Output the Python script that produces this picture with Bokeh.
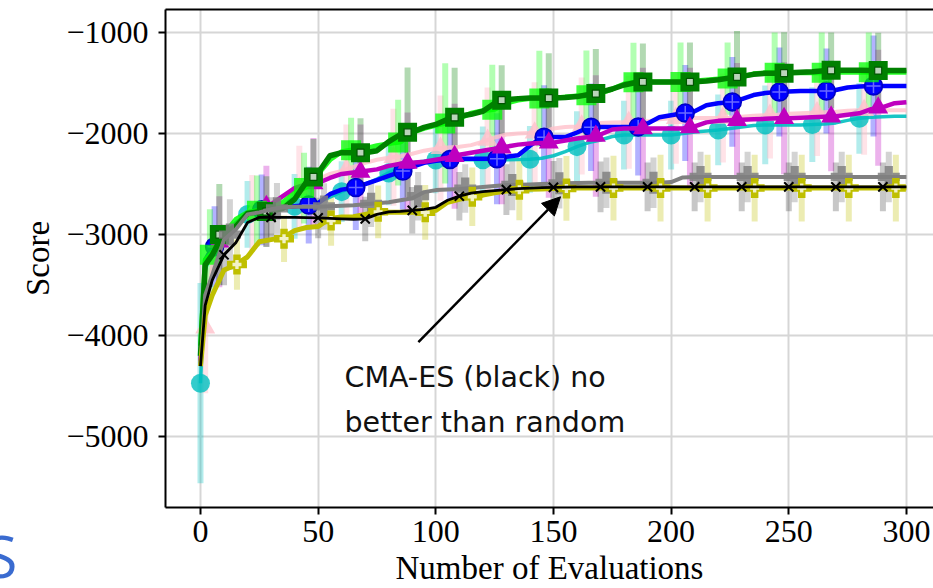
import numpy as np
from bokeh.plotting import figure
from bokeh.layouts import row
from bokeh.models import (Range1d, FixedTicker, CustomJSTickFormatter, Label, Arrow, NormalHead,
                          LinearAxis, Div)
from bokeh.embed import file_html
from bokeh.resources import INLINE

# ---------------- data ----------------
X_TICKS = [0, 50, 100, 150, 200, 250, 300]
Y_TICKS = [-5000, -4000, -3000, -2000, -1000]

LINE_X = [0, 2] + list(range(5, 301, 5))

cyan_line = [-4470, -3350, -3150, -3000, -2880, -2800, -2770, -2750, -2740, -2720, -2700, -2680,
             -2630, -2575, -2530, -2500, -2450, -2390, -2330, -2290, -2275, -2262, -2260, -2260,
             -2260, -2260, -2260, -2260, -2258, -2255, -2245, -2220, -2180, -2130, -2090, -2064,
             -2030, -2015, -2015, -2015, -2015, -2015, -2000, -1985, -1975, -1965, -1950, -1935,
             -1920, -1915, -1915, -1915, -1915, -1912, -1905, -1895, -1870, -1850, -1840, -1835,
             -1830, -1830]
pink_line = [-4000, -3900, -3300, -3050, -2900, -2800, -2770, -2700, -2620, -2560, -2500, -2450,
             -2400, -2370, -2330, -2290, -2260, -2240, -2225, -2200, -2170, -2150, -2138, -2130,
             -2115, -2080, -2040, -2010, -2000, -1995, -1990, -1950, -1935, -1930, -1905, -1895,
             -1890, -1888, -1887, -1880, -1860, -1850, -1847, -1847, -1847, -1847, -1845, -1835,
             -1825, -1820, -1815, -1805, -1800, -1795, -1790, -1785, -1775, -1770, -1770, -1770,
             -1770, -1770]
lime_line = [-4100, -3250, -3180, -3000, -2850, -2780, -2760, -2740, -2680, -2590, -2530, -2400,
             -2260, -2180, -2160, -2150, -2120, -2100, -2085, -1990, -1950, -1920, -1895, -1850,
             -1800, -1775, -1760, -1700, -1670, -1655, -1655, -1650, -1640, -1630, -1620, -1600,
             -1560, -1510, -1490, -1490, -1490, -1490, -1490, -1480, -1470, -1460, -1455, -1440,
             -1410, -1400, -1400, -1400, -1400, -1400, -1400, -1395, -1394, -1394, -1394, -1394,
             -1394, -1394]
blue_line = [-4300, -3250, -3130, -3000, -2900, -2790, -2760, -2740, -2730, -2720, -2710, -2690,
             -2600, -2555, -2540, -2500, -2460, -2420, -2380, -2330, -2290, -2270, -2260, -2250,
             -2250, -2250, -2250, -2230, -2215, -2120, -2040, -2035, -2035, -1990, -1940, -1935,
             -1935, -1935, -1935, -1900, -1840, -1820, -1800, -1780, -1720, -1700, -1690, -1660,
             -1620, -1600, -1590, -1585, -1580, -1580, -1580, -1570, -1545, -1535, -1530, -1530,
             -1530, -1530]
magenta_line = [-4250, -3300, -3200, -3050, -2900, -2800, -2760, -2700, -2620, -2540, -2500, -2490,
                -2440, -2400, -2385, -2370, -2355, -2320, -2300, -2290, -2280, -2260, -2240, -2210,
                -2190, -2170, -2150, -2130, -2110, -2100, -2095, -2090, -2070, -2050, -2035, -2010,
                -1960, -1950, -1950, -1950, -1950, -1950, -1950, -1930, -1890, -1875, -1870, -1865,
                -1860, -1855, -1850, -1848, -1845, -1840, -1835, -1830, -1815, -1800, -1760, -1740,
                -1700, -1690]
dgreen_line = [-4200, -3300, -3200, -2980, -2920, -2790, -2775, -2770, -2740, -2650, -2480, -2390,
               -2220, -2190, -2190, -2190, -2170, -2080, -2010, -1985, -1940, -1910, -1860, -1830,
               -1810, -1780, -1700, -1665, -1655, -1650, -1650, -1650, -1645, -1635, -1615, -1590,
               -1560, -1520, -1495, -1490, -1490, -1490, -1490, -1488, -1480, -1468, -1450, -1435,
               -1415, -1405, -1405, -1400, -1395, -1390, -1380, -1375, -1375, -1375, -1378, -1378,
               -1378, -1378]
gray_line = [-4300, -3600, -3400, -3050, -2950, -2800, -2780, -2750, -2730, -2725, -2725, -2724,
             -2720, -2715, -2710, -2700, -2690, -2680, -2660, -2640, -2580, -2560, -2555, -2550,
             -2540, -2530, -2520, -2510, -2508, -2505, -2500, -2495, -2492, -2490, -2488, -2488,
             -2488, -2488, -2488, -2488, -2488, -2480, -2435, -2430, -2430, -2430, -2430, -2430,
             -2430, -2430, -2430, -2430, -2430, -2430, -2430, -2430, -2430, -2430, -2430, -2430,
             -2430, -2430]
black_line = [-4300, -3700, -3450, -3200, -3080, -2880, -2830, -2830, -2830, -2830, -2833, -2835,
              -2840, -2845, -2848, -2845, -2800, -2775, -2770, -2760, -2750, -2730, -2660, -2620,
              -2590, -2575, -2565, -2555, -2545, -2540, -2535, -2533, -2530, -2528, -2528, -2528,
              -2528, -2528, -2528, -2528, -2528, -2528, -2528, -2528, -2528, -2528, -2528, -2528,
              -2528, -2528, -2528, -2528, -2528, -2528, -2528, -2528, -2528, -2528, -2528, -2528,
              -2528, -2528]
yellow_line = [-4300, -3800, -3600, -3350, -3300, -3220, -3070, -3050, -3030, -2960, -2930, -2920,
               -2840, -2825, -2823, -2800, -2775, -2780, -2780, -2780, -2780, -2760, -2680, -2650,
               -2626, -2610, -2586, -2570, -2557, -2552, -2548, -2545, -2543, -2540, -2540, -2540,
               -2540, -2540, -2540, -2540, -2540, -2540, -2540, -2540, -2540, -2540, -2540, -2540,
               -2540, -2540, -2540, -2540, -2540, -2540, -2540, -2540, -2540, -2540, -2540, -2540,
               -2540, -2540]

# markers (every ~20 evaluations, each series with its own offset) and error half-widths
cyan_mx = [0, 20, 40, 60, 80, 100, 120, 140, 160, 180, 200, 220, 240, 260, 280]
cyan_my = [-4470, -2800, -2720, -2575, -2390, -2262, -2260, -2255, -2130, -2015, -2015, -1965, -1915, -1912, -1850]
cyan_err = [990, 330, 320, 300, 320, 330, 330, 330, 350, 340, 340, 350, 390, 370, 350]

pink_mx = [2, 22, 42, 62, 82, 102, 122, 142, 162, 182, 202, 222, 242, 262, 282]
pink_my = [-3920, -2790, -2540, -2360, -2235, -2145, -2065, -1993, -1925, -1888, -1848, -1847, -1818, -1793, -1770]
pink_err = [650, 380, 420, 450, 480, 520, 520, 500, 480, 460, 450, 440, 430, 430, 440]

lime_mx = [4, 24, 44, 64, 84, 104, 124, 144, 164, 184, 204, 224, 244, 264, 284]
lime_my = [-3200, -2765, -2540, -2165, -2090, -1900, -1765, -1655, -1622, -1492, -1490, -1457, -1400, -1400, -1394]
lime_err = [450, 350, 350, 320, 425, 595, 445, 473, 443, 390, 390, 357, 400, 400, 394]

blue_mx = [6, 26, 46, 66, 86, 106, 126, 146, 166, 186, 206, 226, 246, 266, 286]
blue_my = [-3120, -2755, -2708, -2535, -2372, -2258, -2250, -2036, -1938, -1935, -1798, -1688, -1590, -1580, -1530]
blue_err = [400, 350, 380, 420, 400, 420, 450, 513, 432, 480, 475, 444, 440, 420, 500]

magenta_mx = [8, 28, 48, 68, 88, 108, 128, 148, 168, 188, 208, 228, 248, 268, 288]
magenta_my = [-3070, -2720, -2495, -2380, -2292, -2225, -2140, -2092, -2025, -1950, -1940, -1868, -1849, -1834, -1745]
magenta_err = [450, 400, 450, 470, 500, 520, 560, 543, 600, 600, 590, 565, 555, 540, 573]

dgreen_mx = [8, 28, 48, 68, 88, 108, 128, 148, 168, 188, 208, 228, 248, 268, 288]
dgreen_my = [-3000, -2772, -2430, -2190, -1988, -1840, -1670, -1650, -1605, -1490, -1490, -1440, -1403, -1375, -1378]
dgreen_err = [500, 350, 375, 340, 640, 490, 345, 445, 440, 380, 390, 455, 405, 375, 375]

black_mx = [10, 30, 50, 70, 90, 110, 130, 150, 170, 190, 210, 230, 250, 270, 290]
black_my = [-3200, -2830, -2835, -2845, -2760, -2620, -2555, -2533, -2528, -2528, -2528, -2528, -2528, -2528, -2528]
black_err = [300, 200, 200, 220, 230, 240, 250, 260, 250, 240, 240, 240, 240, 240, 240]

gray_mx = [12.5, 32.5, 52.5, 72.5, 92.5, 112.5, 132.5, 152.5, 172.5, 192.5, 212.5, 232.5, 252.5, 272.5, 292.5]
gray_my = [-3000, -2740, -2722, -2695, -2620, -2545, -2509, -2493, -2488, -2488, -2430, -2430, -2430, -2430, -2430]
gray_err = [350, 250, 230, 230, 240, 240, 250, 250, 250, 250, 250, 250, 250, 250, 250]

yellow_mx = [15.5, 35.5, 55.5, 75.5, 95.5, 115.5, 135.5, 155.5, 175.5, 195.5, 215.5, 235.5, 255.5, 275.5, 295.5]
yellow_my = [-3296, -3040, -2860, -2775, -2780, -2626, -2557, -2543, -2540, -2540, -2540, -2540, -2540, -2540, -2540]
yellow_err = [250, 230, 250, 260, 270, 290, 300, 320, 320, 330, 330, 330, 330, 330, 330]

ANNOT_LINES = ["CMA-ES (black) no", "better than random"]
X_LABEL = "Number of Evaluations"
Y_LABEL = "Score"
EDGE_TEXT = "S"

# ---------------- main figure ----------------
p = figure(width=917, height=588, output_backend="svg", toolbar_location=None,
           x_range=Range1d(-14.87, 311.5), y_range=Range1d(-5699.5, -773.4),
           min_border_left=149, min_border_right=0, min_border_top=9, min_border_bottom=80)
p.background_fill_color = "white"
p.border_fill_color = "white"
p.outline_line_color = None

xax = p.below[0]
yax = p.left[0]
xax.ticker = FixedTicker(ticks=X_TICKS)
yax.ticker = FixedTicker(ticks=Y_TICKS)
yax.formatter = CustomJSTickFormatter(code="return (tick < 0 ? '\\u2212' : '') + Math.abs(tick).toString();")
for ax in (xax, yax):
    ax.axis_line_width = 2
    ax.axis_line_color = "black"
    ax.major_tick_line_width = 2
    ax.major_tick_out = 7
    ax.major_tick_in = 0
    ax.minor_tick_line_color = None
    ax.major_label_text_font = "Liberation Serif"
    ax.major_label_text_font_size = "32px"
    ax.major_label_text_color = "black"
    ax.axis_label_text_font = "Liberation Serif"
    ax.axis_label_text_font_size = "33px"
    ax.axis_label_text_font_style = "normal"
    ax.axis_label_text_color = "black"
xax.major_label_standoff = 6
xax.axis_label = X_LABEL
xax.axis_label_standoff = 5
yax.major_label_standoff = 10
yax.axis_label = Y_LABEL
yax.axis_label_standoff = 7
p.xgrid.ticker = FixedTicker(ticks=X_TICKS)
p.ygrid.ticker = FixedTicker(ticks=Y_TICKS)
p.grid.grid_line_color = "#d6d6d6"
p.grid.grid_line_width = 2

# top spine only (no ticks / labels)
top = LinearAxis(ticker=FixedTicker(ticks=[]), axis_line_width=2, axis_line_color="black",
                 major_tick_line_color=None, minor_tick_line_color=None,
                 major_label_text_font_size="0px", major_label_standoff=0)
p.add_layout(top, "above")

series = [
    dict(name="cyan", line=cyan_line, mx=cyan_mx, my=cyan_my, err=cyan_err, color="#00bfbf", lw=3.5, la=0.9, ea=0.3),
    dict(name="pink", line=pink_line, mx=pink_mx, my=pink_my, err=pink_err, color="#ffc0cb", lw=4, la=0.8, ea=0.45),
    dict(name="blue", line=blue_line, mx=blue_mx, my=blue_my, err=blue_err, color="#0000ff", lw=4.5, la=1.0, ea=0.3),
    dict(name="magenta", line=magenta_line, mx=magenta_mx, my=magenta_my, err=magenta_err, color="#bf00bf", lw=4.5, la=1.0, ea=0.3),
    dict(name="lime", line=lime_line, mx=lime_mx, my=lime_my, err=lime_err, color="#00ff00", lw=5, la=0.85, ea=0.3),
    dict(name="dgreen", line=dgreen_line, mx=dgreen_mx, my=dgreen_my, err=dgreen_err, color="#008000", lw=5.5, la=1.0, ea=0.3),
    dict(name="gray", line=gray_line, mx=gray_mx, my=gray_my, err=gray_err, color="#808080", lw=4, la=1.0, ea=0.35),
    dict(name="yellow", line=yellow_line, mx=yellow_mx, my=yellow_my, err=yellow_err, color="#bfbf00", lw=5, la=1.0, ea=0.3),
    dict(name="black", line=black_line, mx=black_mx, my=black_my, err=black_err, color="#000000", lw=2.8, la=1.0, ea=0.22),
]

# error bars (behind everything)
for s in series:
    my = np.array(s["my"], dtype=float)
    er = np.array(s["err"], dtype=float)
    p.segment(x0=s["mx"], y0=my - er, x1=s["mx"], y1=my + er,
              line_color=s["color"], line_alpha=s["ea"], line_width=6)

def draw_markers(s):
    n = s["name"]
    x, y, c = s["mx"], s["my"], s["color"]
    if n == "cyan":
        p.scatter(x, y, marker="circle", size=19, fill_color=c, fill_alpha=0.8, line_color=None)
    elif n == "pink":
        p.scatter(x, y, marker="triangle", size=20, fill_color=c, fill_alpha=0.8, line_color=None)
    elif n == "lime":
        p.scatter(x, y, marker="square", size=20, fill_color=c, fill_alpha=0.75, line_color=None)
    elif n == "blue":
        p.scatter(x, y, marker="circle", size=18, fill_color=c, line_color="#0000c0", line_width=1.5)
        p.scatter(x, y, marker="cross", size=14, line_color="#6a6aff", line_width=1.5)
    elif n == "magenta":
        p.scatter(x, y, marker="triangle", size=20, fill_color=c, line_color=None)
    elif n == "dgreen":
        p.scatter(x, y, marker="square", size=19, fill_color=c, line_color=None)
        p.scatter(x, y, marker="square", size=7, fill_color="#e8e8e8", fill_alpha=0.8,
                  line_color="#005500", line_width=1.2)
    elif n == "gray":
        p.scatter(x, y, marker="plus", size=22, fill_color=c, fill_alpha=0.85, line_color=None)
    elif n == "yellow":
        p.scatter(x, y, marker="plus", size=20, fill_color=c, line_color=None)
        p.scatter(x, y, marker="plus", size=9, fill_color="#f2f2c8", line_color=None)
    elif n == "black":
        p.scatter(x, y, marker="x", size=13, line_color=c, line_width=2)

for s in series:
    p.line(LINE_X, s["line"], line_color=s["color"], line_width=s["lw"], line_alpha=s["la"],
           line_join="round")
    draw_markers(s)

# annotation arrow + text
ARROW_FROM = (92.6, -4064)
ARROW_TO = (153.0, -2626)
p.add_layout(Arrow(end=NormalHead(size=18, fill_color="black", line_color="black", line_width=1),
                   x_start=ARROW_FROM[0], y_start=ARROW_FROM[1], x_end=ARROW_TO[0], y_end=ARROW_TO[1],
                   line_color="black", line_width=2.5))
for txt, yb in zip(ANNOT_LINES, [-4412, -4856]):
    p.add_layout(Label(x=61.2, y=yb, text=txt, text_font="DejaVu Sans", text_font_size="28.5px",
                       text_color="#111111", text_baseline="alphabetic", text_align="left"))

# ---------------- narrow strip at the left edge (cut-off blue letter) ----------------
edge = Div(text=("<div style=\"position:relative;width:16px;height:588px;overflow:hidden;\">"
                 "<span style=\"position:absolute;left:-15px;top:526px;font-family:'Open Sans';"
                 "font-size:59px;line-height:1;color:#3a6bd0;\">" + EDGE_TEXT + "</span></div>"),
           width=16, height=588, styles={"overflow": "hidden", "margin": "0", "padding": "0"})

layout = row(edge, p, spacing=0)
open("out.html", "w").write(file_html(layout, INLINE))
